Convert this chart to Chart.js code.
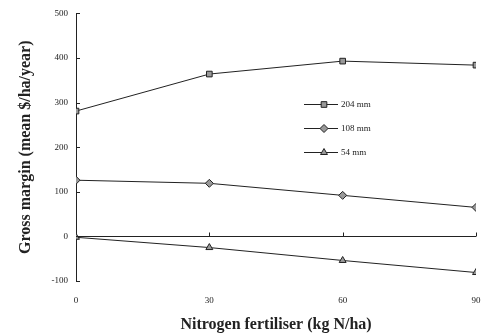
<!DOCTYPE html>
<html>
<head>
<meta charset="utf-8">
<script src="https://cdn.jsdelivr.net/npm/chart.js@4/dist/chart.umd.min.js"></script>
<style>
  html, body { margin: 0; padding: 0; background: #fff; }
  #wrap { width: 481px; height: 334px; }
</style>
</head>
<body>
<div id="wrap"><canvas id="chart" width="481" height="334"></canvas></div>
<script>
const nitrogen = [0, 30, 60, 90];
const seriesNames = ['204 mm', '108 mm', '54 mm'];
const rain204 = [281, 364, 393, 384];
const rain108 = [126, 119, 92, 65];
const rain54 = [-2, -25, -54, -81];
const yTicks = [-100, 0, 100, 200, 300, 400, 500];

const serif = "'Liberation Serif', 'DejaVu Serif', serif";
const ink = '#222';
const markFill = '#999';

// inward tick marks, zero line ticks, and the legend inside the plot
const extras = {
  id: 'extras',
  afterDraw(chart) {
    const { ctx, scales: { x, y } } = chart;
    ctx.save();
    ctx.strokeStyle = ink;
    ctx.lineWidth = 1;
    const x0 = x.getPixelForValue(0);
    for (const v of yTicks) {
      const py = Math.round(y.getPixelForValue(v)) + 0.5;
      ctx.beginPath(); ctx.moveTo(x0, py); ctx.lineTo(x0 + 4, py); ctx.stroke();
    }
    const zy = Math.round(y.getPixelForValue(0)) + 0.5;
    for (const v of nitrogen.slice(1)) {
      const px = Math.round(x.getPixelForValue(v)) + 0.5;
      ctx.beginPath(); ctx.moveTo(px, zy); ctx.lineTo(px, zy - 4); ctx.stroke();
    }

    // legend
    const lx = 304, ly = 104, gap = 24;
    chart.data.datasets.forEach((ds, i) => {
      const yy = ly + i * gap + 0.5;
      ctx.strokeStyle = ink;
      ctx.beginPath(); ctx.moveTo(lx, yy); ctx.lineTo(lx + 34, yy); ctx.stroke();
      ctx.fillStyle = markFill;
      Chart.helpers.drawPoint(ctx, {
        pointStyle: ds.pointStyle, radius: ds.pointRadius, borderWidth: 1
      }, lx + 20, yy);
      ctx.fillStyle = ink;
      ctx.font = '9px ' + serif;
      ctx.textBaseline = 'middle';
      ctx.fillText(ds.label, lx + 37, yy + 0.5);
    });
    ctx.restore();
  }
};

const mkSet = (label, data, style, r) => ({
  label, data,
  borderColor: ink, borderWidth: 1,
  pointStyle: style, pointRadius: r, pointHoverRadius: r,
  pointBackgroundColor: markFill, pointBorderColor: ink, pointBorderWidth: 1,
  tension: 0, fill: false
});

new Chart(document.getElementById('chart'), {
  type: 'line',
  data: {
    datasets: [
      mkSet(seriesNames[0], nitrogen.map((n, i) => ({ x: n, y: rain204[i] })), 'rect', 4),
      mkSet(seriesNames[1], nitrogen.map((n, i) => ({ x: n, y: rain108[i] })), 'rectRot', 4),
      mkSet(seriesNames[2], nitrogen.map((n, i) => ({ x: n, y: rain54[i] })), 'triangle', 4)
    ]
  },
  plugins: [extras],
  options: {
    responsive: false,
    animation: false,
    events: [],
    layout: { padding: { top: 11, right: 1, left: 0, bottom: 0 } },
    plugins: { legend: { display: false }, tooltip: { enabled: false } },
    scales: {
      x: {
        type: 'linear', min: 0, max: 90,
        afterFit(s) { s.paddingRight = 0; s.paddingLeft = 0; s.height = 53; },
        afterBuildTicks(s) { s.ticks = nitrogen.map(v => ({ value: v })); },
        grid: { display: false, drawTicks: false },
        border: { display: false },
        ticks: { color: ink, font: { family: serif, size: 9 }, padding: 14, maxRotation: 0 },
        title: {
          display: true, text: 'Nitrogen fertiliser (kg N/ha)',
          color: ink, font: { family: serif, size: 16, weight: 'bold' },
          padding: { top: 2, bottom: 0 }
        }
      },
      y: {
        min: -100, max: 500,
        afterFit(s) { s.width = 76; },
        afterBuildTicks(s) { s.ticks = yTicks.map(v => ({ value: v })); },
        grid: {
          drawTicks: false,
          color: c => (c.tick && c.tick.value === 0) ? ink : 'rgba(0,0,0,0)',
          lineWidth: 1
        },
        border: { display: true, color: ink, width: 1 },
        ticks: { color: ink, font: { family: serif, size: 9 }, padding: 8 },
        title: {
          display: true, text: 'Gross margin (mean $/ha/year)',
          color: ink, font: { family: serif, size: 16, weight: 'bold' },
          padding: { top: 16, bottom: 0 }
        }
      }
    }
  }
});
</script>
</body>
</html>
